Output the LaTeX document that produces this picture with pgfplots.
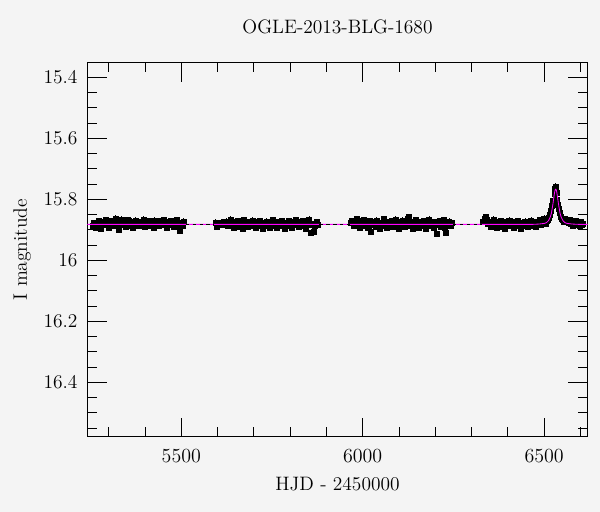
\documentclass[border=0pt]{standalone}
\usepackage{pgfplots}
\pgfplotsset{compat=1.18}
\usepackage{pgfplotstable}
\definecolor{bg}{HTML}{F4F4F4}
\definecolor{model}{HTML}{FF00FF}

\pgfplotstableread{
t m
5255 15.885
5259 15.878
5263 15.892
5267 15.880
5271 15.871
5275 15.889
5279 15.896
5283 15.876
5287 15.884
5291 15.868
5295 15.881
5299 15.893
5303 15.879
5307 15.870
5311 15.887
5315 15.875
5319 15.862
5323 15.884
5327 15.898
5331 15.877
5335 15.866
5339 15.883
5343 15.874
5347 15.890
5351 15.868
5355 15.879
5359 15.886
5363 15.872
5367 15.894
5371 15.881
5375 15.869
5379 15.876
5383 15.888
5387 15.873
5391 15.882
5395 15.866
5399 15.891
5403 15.878
5407 15.884
5411 15.870
5415 15.887
5419 15.875
5423 15.893
5427 15.869
5431 15.880
5435 15.874
5439 15.886
5443 15.871
5447 15.883
5451 15.868
5455 15.879
5459 15.892
5463 15.875
5467 15.884
5471 15.870
5475 15.881
5479 15.889
5483 15.876
5487 15.867
5491 15.882
5495 15.903
5499 15.878
5503 15.885
5507 15.872
}\seasonA

\pgfplotstableread{
t m
5594 15.876
5597 15.890
5600 15.882
5606 15.878
5612 15.884
5616 15.874
5620 15.880
5624 15.872
5628 15.888
5632 15.877
5636 15.866
5640 15.884
5644 15.893
5648 15.874
5652 15.883
5656 15.870
5660 15.889
5664 15.879
5668 15.895
5672 15.868
5676 15.882
5680 15.876
5684 15.891
5688 15.873
5692 15.885
5696 15.869
5700 15.880
5704 15.894
5708 15.875
5712 15.886
5716 15.871
5720 15.883
5724 15.897
5728 15.878
5732 15.888
5736 15.872
5740 15.884
5744 15.892
5748 15.876
5752 15.867
5756 15.885
5760 15.879
5764 15.894
5768 15.873
5772 15.887
5776 15.870
5780 15.882
5784 15.896
5788 15.877
5792 15.886
5796 15.871
5800 15.881
5804 15.893
5808 15.875
5812 15.884
5816 15.868
5820 15.879
5824 15.890
5828 15.874
5832 15.885
5836 15.870
5840 15.882
5844 15.895
5848 15.876
5852 15.866
5856 15.884
5858 15.910
5860 15.879
5864 15.905
5868 15.888
5872 15.874
5876 15.883
}\seasonB

\pgfplotstableread{
t m
5967 15.878
5971 15.870
5975 15.886
5979 15.875
5983 15.864
5987 15.882
5991 15.893
5995 15.872
5999 15.881
6003 15.868
6007 15.888
6011 15.877
6015 15.894
6019 15.871
6023 15.905
6027 15.883
6031 15.874
6035 15.890
6039 15.869
6043 15.881
6047 15.896
6051 15.876
6055 15.887
6059 15.865
6063 15.879
6067 15.892
6071 15.873
6075 15.884
6079 15.870
6083 15.889
6087 15.878
6091 15.866
6095 15.885
6099 15.897
6103 15.874
6107 15.882
6111 15.869
6115 15.891
6119 15.877
6123 15.864
6127 15.858
6131 15.886
6135 15.873
6139 15.895
6143 15.880
6147 15.868
6151 15.884
6155 15.893
6159 15.875
6163 15.887
6167 15.870
6171 15.881
6175 15.896
6179 15.876
6183 15.866
6187 15.885
6191 15.879
6195 15.892
6199 15.873
6203 15.912
6207 15.884
6211 15.870
6215 15.889
6219 15.877
6223 15.867
6227 15.894
6230 15.909
6234 15.880
6238 15.872
6242 15.886
6245 15.876
}\seasonC

\pgfplotstableread{
t m
6332 15.872
6335 15.862
6338 15.858
6341 15.866
6344 15.880
6348 15.874
6352 15.889
6356 15.877
6360 15.866
6364 15.885
6368 15.893
6372 15.873
6376 15.882
6380 15.870
6384 15.890
6388 15.878
6392 15.896
6396 15.872
6400 15.884
6404 15.869
6408 15.888
6412 15.879
6416 15.894
6420 15.874
6424 15.885
6428 15.870
6432 15.881
6436 15.897
6440 15.876
6444 15.887
6448 15.872
6452 15.883
6456 15.891
6460 15.875
6464 15.869
6468 15.885
6472 15.878
6476 15.890
6480 15.873
6484 15.880
6488 15.868
6492 15.884
6496 15.876
6500 15.863
6504 15.879
6507 15.870
6510 15.866
6513 15.860
6516 15.850
6519 15.838
6522 15.822
6525 15.803
6528 15.780
6530 15.766
6532 15.758
6534 15.778
6536 15.800
6538 15.818
6541 15.830
6543 15.845
6546 15.856
6549 15.864
6552 15.868
6555 15.872
6558 15.865
6561 15.874
6564 15.870
6567 15.878
6570 15.868
6573 15.881
6576 15.872
6579 15.886
6582 15.875
6585 15.880
6588 15.871
6591 15.884
6594 15.877
6597 15.888
6600 15.874
6603 15.882
6607 15.880
}\seasonD

\pgfplotstableread{
t m
5241 15.882
6470 15.882
6487 15.881
6502 15.8786
6507 15.876
6512 15.870
6517 15.858
6520 15.846
6523 15.825
6524.5 15.814
6526 15.801
6527.5 15.788
6529 15.777
6530.5 15.769
6532 15.767
6533.5 15.769
6535 15.777
6536.5 15.788
6538 15.801
6539.5 15.814
6541 15.825
6544 15.846
6547 15.858
6552 15.870
6557 15.876
6562 15.8786
6577 15.881
6594 15.882
6620 15.882
}\modeltab

\begin{document}
\begin{tikzpicture}
\fill[bg] (-62.9pt,-54pt) rectangle (369.2pt,314.7pt);
\useasboundingbox (-62.9pt,-54pt) rectangle (369.2pt,314.7pt);
\begin{axis}[
  at={(0,0)}, anchor=south west,
  scale only axis,
  width=360.3pt, height=269.8pt,
  xmin=5241, xmax=6620,
  ymin=15.351, ymax=16.579,
  y dir=reverse,
  axis line style={line width=0.7pt},
  xtick={5500,6000,6500},
  minor xtick={5300,5400,5600,5700,5800,5900,6100,6200,6300,6400,6600},
  ytick={15.4,15.6,15.8,16,16.2,16.4},
  yticklabels={15.4,15.6,15.8,16,16.2,16.4},
  minor ytick={15.45,15.5,15.55,15.65,15.7,15.75,15.85,15.9,15.95,16.05,16.1,16.15,16.25,16.3,16.35,16.45,16.5,16.55},
  major tick length=13.9pt,
  minor tick length=7pt,
  tick style={line width=0.6pt, black},
  /pgf/number format/1000 sep={},
  tick label style={font=\fontsize{14}{17}\selectfont, inner sep=0pt},
  xticklabel style={anchor=base, yshift=-18.5pt},
  yticklabel style={anchor=east, xshift=-6.9pt},
  title={OGLE-2013-BLG-1680},
  title style={font=\fontsize{14}{17}\selectfont, at={(axis description cs:0.5,1.0549)}, anchor=base, inner sep=0pt},
  xlabel={HJD - 2450000},
  xlabel style={font=\fontsize{14}{17}\selectfont, at={(axis description cs:0.5,-0.1442)}, anchor=base, inner sep=0pt},
  ylabel={I magnitude},
  ylabel style={font=\fontsize{14}{17}\selectfont, at={(axis description cs:-0.121,0.5)}, anchor=base, rotate=0, inner sep=0pt},
  clip=true,
  clip marker paths=true,
]
\pgfplotsset{
  datastyle/.style={only marks, mark=square*, mark size=1.8pt, black,
    mark options={black, line width=0.3pt},
    error bars/.cd, y dir=both, y fixed=0.010,
    error bar style={black, line width=0.7pt}, error mark=none},
}
\addplot[datastyle] table[x=t,y=m] {\seasonA};
\addplot[datastyle] table[x=t,y=m] {\seasonB};
\addplot[datastyle] table[x=t,y=m] {\seasonC};
\addplot[datastyle] table[x=t,y=m] {\seasonD};
\addplot[model, line width=0.6pt, no marks] table[x=t,y=m] {\modeltab};
\addplot[black, line width=0.6pt, no marks, dash pattern=on 2.5pt off 2.5pt] coordinates {(5512,15.882) (5591,15.882)};
\addplot[black, line width=0.6pt, no marks, dash pattern=on 2.5pt off 2.5pt] coordinates {(5880,15.882) (5964,15.882)};
\addplot[black, line width=0.6pt, no marks, dash pattern=on 2.5pt off 2.5pt] coordinates {(6248,15.882) (6329,15.882)};
\end{axis}
\end{tikzpicture}
\end{document}
